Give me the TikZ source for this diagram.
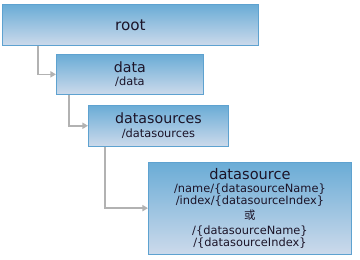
\documentclass[tikz,border=0pt]{standalone}
\usepackage{fontspec}
\setmainfont{DejaVu Sans}
\newfontfamily\cjk{Noto Sans CJK SC}
\usepackage{tikz}
\usetikzlibrary{positioning, arrows.meta}

\definecolor{boxtop}{HTML}{6AACD6}
\definecolor{boxbottom}{HTML}{CCDAEB}
\definecolor{boxline}{HTML}{5EA2D0}
\definecolor{linkgray}{HTML}{B2B2B2}
\definecolor{labeltext}{HTML}{1C1428}

\newcommand{\mainsize}{\fontsize{14.2}{15}\selectfont}
\newcommand{\subsize}{\fontsize{11.4}{11.8}\selectfont}

\begin{document}
\begin{tikzpicture}[
        x=1pt, y=-1pt,
        node distance=8pt and 54pt,
        pathbox/.style={rectangle, draw=boxline, line width=0.9pt, top color=boxtop, bottom color=boxbottom, inner sep=0pt, align=center, text=labeltext, font=\subsize},
        link/.style={-{Triangle[length=5.5pt, width=6pt]}, draw=linkgray, line width=1.5pt}
    ]

    \useasboundingbox (0,0) rectangle (360,260);

    % Boxes stepping down to the right
    \node[pathbox, minimum width=256pt, minimum height=41pt, font=\fontsize{15.2}{16}\selectfont, anchor=north west] (root) at (2,4) {root};
    \node[pathbox, minimum width=147pt, minimum height=40pt, below right=8pt and 54pt of root.south west] (data) {{\mainsize data}\\[1.5pt]/data};
    \node[pathbox, minimum width=140pt, minimum height=41pt, below right=10pt and 32pt of data.south west] (sources) {{\mainsize datasources}\\[1.5pt]/datasources};
    \node[pathbox, minimum width=203pt, minimum height=92pt, below right=15pt and 60pt of sources.south west] (source) {{\fontsize{14.6}{15}\selectfont datasource}\\[1.9pt]/name/\{datasourceName\}\\/index/\{datasourceIndex\}\\[3.2pt]{\cjk 或}\\[3.2pt]/\{datasourceName\}\\/\{datasourceIndex\}};

    % Links from each level to the next
    \draw[link] (root.south west) ++(36,0) |- (data.west);
    \draw[link] (data.south west) ++(13,0) |- (sources.west);
    \draw[link] (sources.south west) ++(17,0) |- (source.west);

\end{tikzpicture}
\end{document}
